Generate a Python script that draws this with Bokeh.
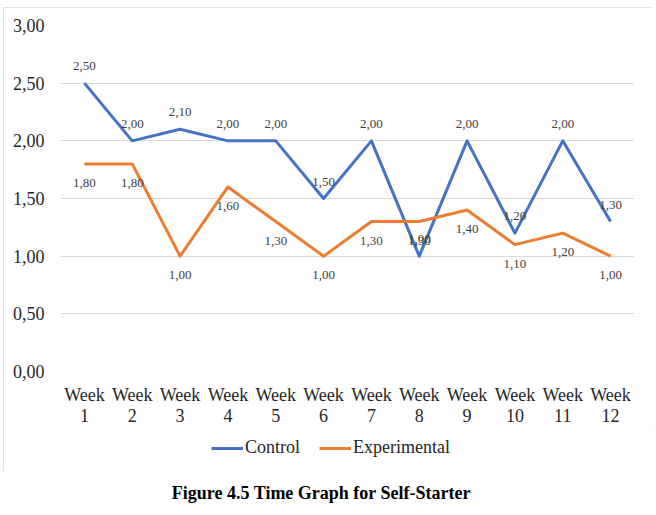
from bokeh.plotting import figure
from bokeh.layouts import column, row
from bokeh.models import (Range1d, FixedTicker, Legend, LegendItem, Label,
                          ColumnDataSource, Spacer)
from bokeh.embed import file_html
from bokeh.resources import INLINE
from bokeh.core.properties import value

# ---- data -------------------------------------------------------------
weeks = [f"Week\n{i}" for i in range(1, 13)]
control = [2.50, 2.00, 2.10, 2.00, 2.00, 1.50, 2.00, 1.00, 2.00, 1.20, 2.00, 1.30]
experimental = [1.80, 1.80, 1.00, 1.60, 1.30, 1.00, 1.30, 1.30, 1.40, 1.10, 1.20, 1.00]
y_ticks = [0.0, 0.5, 1.0, 1.5, 2.0, 2.5, 3.0]
series_names = ["Control", "Experimental"]
caption = "Figure 4.5 Time Graph for Self-Starter"

BLUE = "#4472C4"
ORANGE = "#ED7D31"
FONT = "Liberation Serif"
TXT = "#262626"


def fmt(v):
    return f"{v:.2f}".replace(".", ",")


def strip(width, height):
    """A plain figure without axes, used for the legend row and the caption."""
    fig = figure(width=width, height=height, output_backend="svg",
                 toolbar_location=None, x_axis_location=None,
                 y_axis_location=None, x_range=Range1d(0, 1),
                 y_range=Range1d(0, 1), min_border=0)
    fig.grid.visible = False
    fig.outline_line_color = None
    fig.border_fill_color = "white"
    fig.background_fill_color = "white"
    return fig


x = list(range(1, len(weeks) + 1))
src_c = ColumnDataSource(dict(x=x, y=control, lab=[fmt(v) for v in control]))
src_e = ColumnDataSource(dict(x=x, y=experimental, lab=[fmt(v) for v in experimental]))

# ---- main plot ----------------------------------------------------------
p = figure(width=649, height=424, output_backend="svg", toolbar_location=None,
           x_range=Range1d(0.5, len(weeks) + 0.5), y_range=Range1d(0, 3),
           min_border_left=57, min_border_right=18, min_border_top=18,
           min_border_bottom=60)
p.outline_line_color = None
p.background_fill_color = "white"
p.border_fill_color = "white"

p.yaxis.ticker = FixedTicker(ticks=y_ticks)
p.yaxis.major_label_overrides = {t: fmt(t) for t in y_ticks}
p.xaxis.ticker = FixedTicker(ticks=x)
p.xaxis.major_label_overrides = {i: w for i, w in zip(x, weeks)}
for ax in (p.xaxis, p.yaxis):
    ax.axis_line_color = None
    ax.major_tick_line_color = None
    ax.minor_tick_line_color = None
    ax.major_tick_out = 0
    ax.major_tick_in = 0
    ax.minor_tick_out = 0
    ax.minor_tick_in = 0
    ax.major_label_text_font = FONT
    ax.major_label_text_font_size = "18px"
    ax.major_label_text_color = TXT
p.yaxis.major_label_standoff = 16
p.xaxis.major_label_standoff = 13
p.xaxis.major_label_text_line_height = 1.05

p.xgrid.grid_line_color = None
p.ygrid.ticker = FixedTicker(ticks=y_ticks)
p.ygrid.grid_line_color = "#d9d9d9"
p.ygrid.grid_line_width = 1

line_style = dict(line_width=3, line_join="round")
p.line("x", "y", source=src_c, line_color=BLUE, **line_style)
p.line("x", "y", source=src_e, line_color=ORANGE, **line_style)

label_style = dict(text_align="center", text_baseline="middle",
                   text_font=value(FONT), text_font_size="13px",
                   text_color="#404040")
p.text("x", "y", text="lab", source=src_c, y_offset=-17, **label_style)
p.text("x", "y", text="lab", source=src_e, y_offset=19, **label_style)

# ---- legend row (inside the chart box) ---------------------------------
leg = strip(649, 40)
nan = float("nan")
k_c = leg.line(x=[nan], y=[nan], line_color=BLUE, **line_style)
k_e = leg.line(x=[nan], y=[nan], line_color=ORANGE, **line_style)
legend = Legend(items=[LegendItem(label=series_names[0], renderers=[k_c]),
                       LegendItem(label=series_names[1], renderers=[k_e])],
                location=(151, 13), orientation="horizontal",
                border_line_color=None, background_fill_alpha=0,
                padding=0, margin=0, spacing=19, glyph_width=32,
                glyph_height=20, label_height=20, label_standoff=2,
                label_text_font=FONT, label_text_font_size="18px",
                label_text_color=TXT)
leg.add_layout(legend, "center")

box = column(p, leg, spacing=0)
box.styles = {"outline": "1px solid #d9d9d9", "outline-offset": "-1px"}

# ---- caption -----------------------------------------------------------
cap = strip(656, 44)
cap.add_layout(Label(x=321, y=23, x_units="screen", y_units="screen",
                     text=caption, text_align="center",
                     text_baseline="middle", text_font=FONT,
                     text_font_size="18px", text_font_style="bold",
                     text_color="#000000"))

layout = column(Spacer(width=656, height=7),
                row(Spacer(width=3, height=464), box, spacing=0),
                cap, spacing=0)
open("out.html", "w").write(file_html(layout, INLINE))
